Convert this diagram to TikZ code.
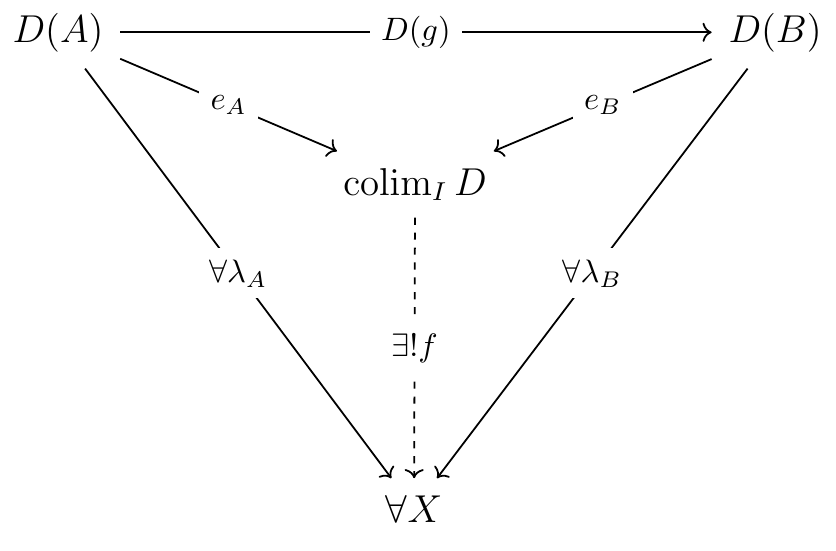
\documentclass[tikz,border=0pt]{standalone}
\usepackage{amsmath,amssymb}
\usetikzlibrary{arrows.meta,positioning}

\begin{document}
\begin{tikzpicture}[
obj/.style={font=\large, inner sep=5pt, anchor=base},
lbl/.style={fill=white, font=\normalsize, inner sep=3.5pt},
arrow/.style={->, line width=0.55pt},
dasharrow/.style={arrow, dash pattern=on 2.2pt off 2.4pt}
]
\useasboundingbox (0,0) rectangle (9.07,-5.978);

\node[obj] (DA) at (0.629,-0.456) {$D(A)$};
\node[obj] (DB) at (8.409,-0.456) {$D(B)$};
\node[obj] (colim) at (4.503,-2.116) {$\operatorname{colim}_I D$};
\node[obj] (X) at (4.492,-5.664) {$\forall X$};

\draw[arrow] (DA) -- node[lbl] {$D(g)$} (DB);
\draw[arrow] (DA) -- node[lbl] {$e_A$} (colim);
\draw[arrow] (DB) -- node[lbl] {$e_B$} (colim);
\draw[arrow] (DA) -- node[lbl] {$\forall\lambda_A$} (X);
\draw[arrow] (DB) -- node[lbl] {$\forall\lambda_B$} (X);
\draw[dasharrow] (colim) -- node[lbl] {$\exists!f$} (X);
\end{tikzpicture}
\end{document}
